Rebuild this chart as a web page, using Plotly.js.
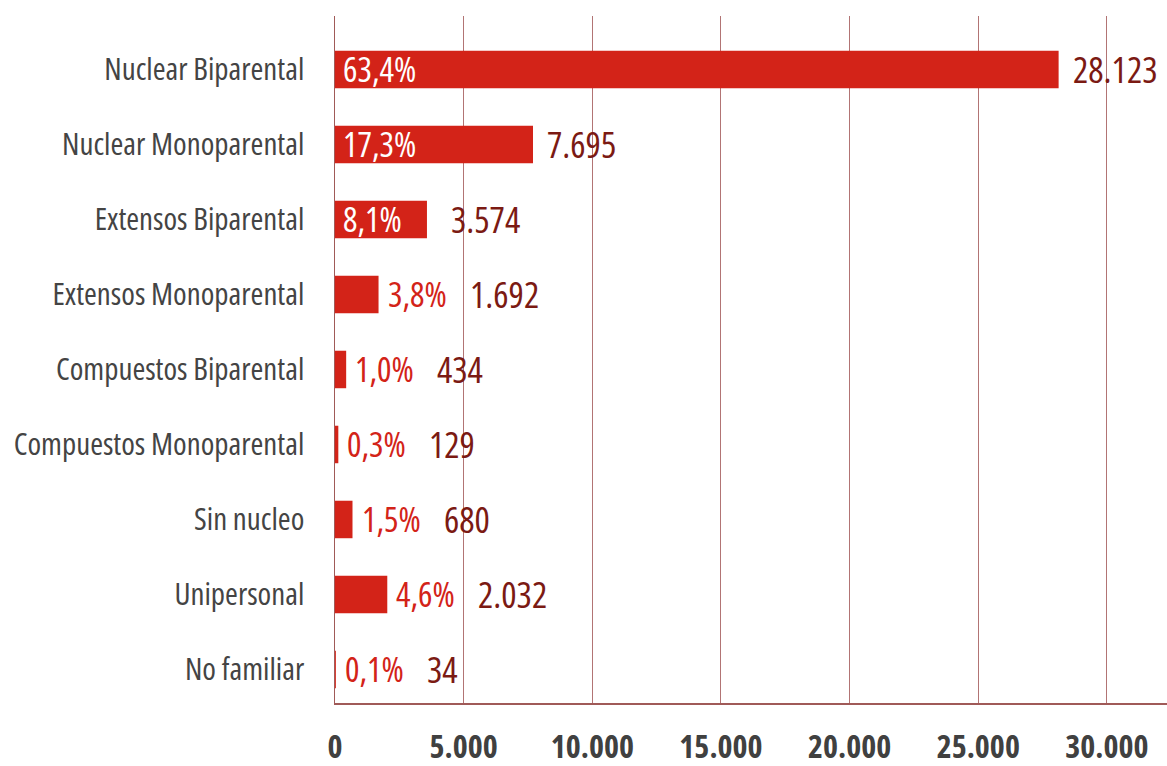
<!DOCTYPE html>
<html>
<head>
<meta charset="utf-8">
<script src="https://cdn.plot.ly/plotly-3.0.1.min.js"></script>
<style>
  html, body { margin: 0; padding: 0; background: #fff; }
  #chart { width: 1167px; height: 766px; }
  /* the original uses a narrow typeface: squeeze Open Sans (also in plotly's measuring svg) */
  svg text { font-stretch: condensed; }
</style>
</head>
<body>
<div id="chart"></div>
<script>
// tipos de hogar
const categories = [
    "Nuclear Biparental",
    "Nuclear Monoparental",
    "Extensos Biparental",
    "Extensos Monoparental",
    "Compuestos Biparental",
    "Compuestos Monoparental",
    "Sin nucleo",
    "Unipersonal",
    "No familiar"
];
const counts = [28123, 7695, 3574, 1692, 434, 129, 680, 2032, 34];
const pctLabels = ["63,4%", "17,3%", "8,1%", "3,8%", "1,0%", "0,3%", "1,5%", "4,6%", "0,1%"];
const countLabels = ["28.123", "7.695", "3.574", "1.692", "434", "129", "680", "2.032", "34"];
const tickVals = [0, 5000, 10000, 15000, 20000, 25000, 30000];
const tickText = ["0", "5.000", "10.000", "15.000", "20.000", "25.000", "30.000"];

const FONT = "'Open Sans', 'Roboto', sans-serif";
const RED = "#d32318";
const DARK = "#7b1a13";
const GRID = "#b27474";

const annotations = [];
categories.forEach((c, i) => {
    const inside = i < 3;
    if (inside) {
        annotations.push({
            x: 0, y: c, xref: "x", yref: "y",
            text: pctLabels[i], showarrow: false,
            xanchor: "left", xshift: 6, yshift: 0,
            font: { family: FONT, size: 34, color: "#ffffff" }
        });
        annotations.push({
            x: counts[i], y: c, xref: "x", yref: "y",
            text: countLabels[i], showarrow: false,
            xanchor: "left", xshift: 12 + (i === 2 ? 10 : 0), yshift: 0,
            font: { family: FONT, size: 36, color: DARK }
        });
    } else {
        annotations.push({
            x: counts[i], y: c, xref: "x", yref: "y",
            text: pctLabels[i], showarrow: false,
            xanchor: "left", xshift: 7, yshift: 0,
            font: { family: FONT, size: 34, color: RED }
        });
        annotations.push({
            x: counts[i], y: c, xref: "x", yref: "y",
            text: countLabels[i], showarrow: false,
            xanchor: "left", xshift: 89, yshift: 0,
            font: { family: FONT, size: 36, color: DARK }
        });
    }
});

Plotly.newPlot("chart", [{
    type: "bar",
    orientation: "h",
    x: counts,
    y: categories,
    width: 0.5,
    marker: { color: RED, line: { width: 0 } },
    hoverinfo: "none"
}], {
    width: 1167,
    height: 766,
    margin: { l: 335, r: 0, t: 16, b: 63 },
    paper_bgcolor: "#ffffff",
    plot_bgcolor: "#ffffff",
    showlegend: false,
    font: { family: FONT },
    xaxis: {
        range: [0, 32335],
        tickvals: tickVals,
        ticktext: tickText,
        showgrid: true,
        gridcolor: GRID,
        gridwidth: 1,
        zeroline: false,
        showline: true,
        linecolor: "#a05a58",
        linewidth: 1.5,
        ticks: "",
        ticklabelstandoff: 15,
        tickfont: { family: FONT, size: 32, color: "#404040", weight: "bold" }
    },
    yaxis: {
        type: "category",
        range: [8.447, -0.713],
        showgrid: false,
        zeroline: false,
        showline: true,
        linecolor: "#a05a58",
        linewidth: 1.5,
        ticks: "",
        ticklabelstandoff: 23,
        tickfont: { family: FONT, size: 31, color: "#444444" }
    },
    annotations: annotations
}, { displayModeBar: false, staticPlot: true });
</script>
</body>
</html>
